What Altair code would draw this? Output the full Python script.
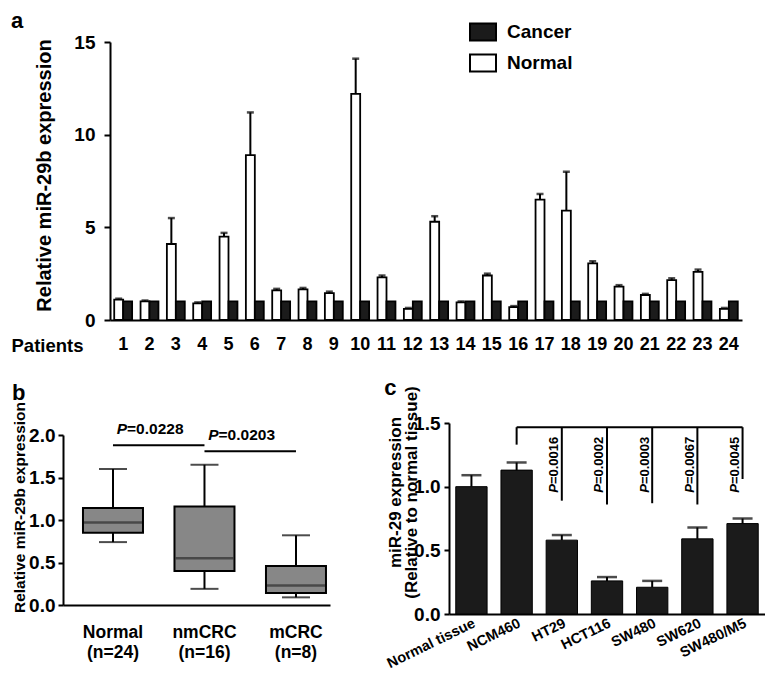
import altair as alt
import pandas as pd

FONT = "Liberation Sans"

# ---------------- panel a data ----------------
patients = ["1", "2", "3", "4", "5", "6", "7", "8", "9", "10", "11", "12",
            "13", "14", "15", "16", "17", "18", "19", "20", "21", "22", "23", "24"]
normal_expr = [1.1, 1.0, 4.1, 0.9, 4.5, 8.9, 1.6, 1.65, 1.45, 12.2, 2.3, 0.6,
               5.3, 0.95, 2.4, 0.7, 6.5, 5.9, 3.05, 1.8, 1.35, 2.15, 2.6, 0.6]
normal_err = [0.05, 0.05, 1.4, 0.05, 0.2, 2.3, 0.08, 0.08, 0.08, 1.9, 0.1, 0.05,
              0.3, 0.05, 0.1, 0.05, 0.3, 2.1, 0.12, 0.08, 0.06, 0.1, 0.12, 0.05]
cancer_expr = [1.0, 1.0, 1.0, 1.0, 1.0, 1.0, 1.0, 1.0, 1.0, 1.0, 1.0, 1.0,
               1.0, 1.0, 1.0, 1.0, 1.0, 1.0, 1.0, 1.0, 1.0, 1.0, 1.0, 1.0]
series_a = ["Cancer", "Normal"]

# ---------------- panel b data ----------------
groups_b = ["Normal|(n=24)", "nmCRC|(n=16)", "mCRC|(n=8)"]
b_low = [0.74, 0.19, 0.09]
b_q1 = [0.85, 0.40, 0.14]
b_med = [0.97, 0.55, 0.23]
b_q3 = [1.14, 1.16, 0.46]
b_high = [1.60, 1.65, 0.82]
pb_from = ["Normal|(n=24)", "nmCRC|(n=16)"]
pb_to = ["nmCRC|(n=16)", "mCRC|(n=8)"]
pb_text = ["=0.0228", "=0.0203"]
pb_line_y = [1.88, 1.81]
pb_label_y = [2.065, 2.0]

# ---------------- panel c data ----------------
cells = ["Normal tissue", "NCM460", "HT29", "HCT116", "SW480", "SW620", "SW480/M5"]
cell_expr = [1.0, 1.13, 0.58, 0.26, 0.21, 0.59, 0.71]
cell_err = [0.09, 0.06, 0.04, 0.03, 0.05, 0.09, 0.04]
bracket_from = ["NCM460"]
bracket_to = ["SW480/M5"]
bracket_level = [1.467]
drop_cells = ["NCM460", "HT29", "HCT116", "SW480", "SW620", "SW480/M5"]
drop_bottom = [1.33, 0.89, 0.86, 0.87, 0.86, 1.06]
pc_cells = ["HT29", "HCT116", "SW480", "SW620", "SW480/M5"]
pc_text = ["=0.0016", "=0.0002", "=0.0003", "=0.0067", "=0.0045"]
pc_anchor = [1.02, 1.02, 1.02, 1.02, 1.02]

# ======================= panel a =======================
dfa = pd.DataFrame({
    "patient": patients + patients,
    "group": ["Normal"] * len(patients) + ["Cancer"] * len(patients),
    "value": normal_expr + cancer_expr,
})
dfa_err = pd.DataFrame({
    "patient": patients,
    "group": ["Normal"] * len(patients),
    "value": normal_expr,
    "top": [v + e for v, e in zip(normal_expr, normal_err)],
})

A_W = 679      # plot group width (shared left edge with panel b)
A_SHIFT = 47   # where panel a's own axis starts inside that group
xa_scale = alt.Scale(domain=patients, paddingInner=0.32, paddingOuter=0.16, range=[A_SHIFT, A_W])
xa_axis = alt.Axis(title="Patients", labelAngle=0, ticks=False, tickSize=0,
                   labelFontSize=18, labelPadding=15, titleX=-52, titleY=25,
                   titleAlign="left", titleBaseline="middle", titleFontSize=18.5,
                   domainWidth=2)
xoff = alt.XOffset("group:N", scale=alt.Scale(domain=["Normal", "Cancer"], paddingInner=0, paddingOuter=0))
ya_scale = alt.Scale(domain=[0, 15], nice=False)
ya_axis = alt.Axis(values=[0, 5, 10, 15], title="Relative miR-29b expression", offset=-A_SHIFT,
                   titleFontSize=20, titleX=-66, titleY=133, titleAlign="center",
                   titleBaseline="middle", tickSize=6, labelPadding=9, labelFontSize=19)

bars_a = alt.Chart(dfa).mark_bar(stroke="black", strokeWidth=1.8).encode(
    x=alt.X("patient:N", scale=xa_scale, axis=xa_axis),
    xOffset=xoff,
    y=alt.Y("value:Q", scale=ya_scale, axis=ya_axis),
    color=alt.Color("group:N", scale=alt.Scale(domain=series_a, range=["#1b1b1b", "#ffffff"]),
                    legend=alt.Legend(title=None, orient="none", legendX=359 + A_SHIFT, legendY=-24,
                                      symbolType="M-1,-0.65H1V0.65H-1Z", symbolSize=676,
                                      symbolStrokeColor="black", symbolStrokeWidth=2,
                                      labelFontSize=19, labelFont=FONT, labelFontWeight="bold",
                                      labelColor="black", labelOffset=10, rowPadding=4, padding=0)),
)
err_a = alt.Chart(dfa_err).mark_rule(strokeWidth=2, color="black").encode(
    x=alt.X("patient:N", scale=xa_scale, axis=xa_axis),
    xOffset=xoff,
    y=alt.Y("value:Q", scale=ya_scale, axis=ya_axis),
    y2="top:Q",
)
cap_a = alt.Chart(dfa_err).mark_tick(thickness=2.5, size=7, color="black").encode(
    x=alt.X("patient:N", scale=xa_scale, axis=xa_axis),
    xOffset=xoff,
    y=alt.Y("top:Q", scale=ya_scale, axis=ya_axis),
)
panel_a = alt.layer(bars_a, err_a, cap_a).properties(
    width=A_W, height=278,
    title=alt.Title("a", anchor="start", frame="bounds", fontSize=22, fontWeight="bold",
                    font=FONT, offset=0, color="black"),
)

# ======================= panel b =======================
dfb = pd.DataFrame({"group": groups_b, "low": b_low, "q1": b_q1, "med": b_med,
                    "q3": b_q3, "high": b_high})
dfp = pd.DataFrame({"from": pb_from, "to": pb_to, "line_y": pb_line_y,
                    "label_y": pb_label_y, "text": pb_text, "p": ["P", "P"]})

B_H = 182
B_TOP = 12
xb_scale = alt.Scale(domain=groups_b, paddingInner=0.3, paddingOuter=0.109, align=0.9)
xb_axis = alt.Axis(title=None, labelAngle=0, ticks=False, tickSize=0,
                   labelExpr="split(datum.label, '|')", labelFontSize=17.5,
                   labelLineHeight=20, labelPadding=18, domainWidth=2)
yb_scale = alt.Scale(domain=[0, 2], nice=False, range=[B_H, B_TOP])
yb_axis = alt.Axis(values=[0, 0.5, 1, 1.5, 2], format=".1f", title="Relative miR-29b expression",
                   titleFontSize=15.5, titleX=-44, titleY=84, titleAlign="center",
                   titleBaseline="middle", tickSize=5, labelPadding=3, labelFontSize=19)


def xb(field="group", band=None):
    if band is None:
        return alt.X(f"{field}:N", scale=xb_scale, axis=xb_axis)
    return alt.X(f"{field}:N", scale=xb_scale, axis=xb_axis, bandPosition=band)


def yb(field):
    return alt.Y(f"{field}:Q", scale=yb_scale, axis=yb_axis)


whisk_b = alt.Chart(dfb).mark_rule(strokeWidth=2, color="black").encode(x=xb(), y=yb("low"), y2="high:Q")
box_b = alt.Chart(dfb).mark_bar(size=60, fill="#878787", stroke="black", strokeWidth=2).encode(
    x=xb(), y=yb("q1"), y2="q3:Q")
med_b = alt.Chart(dfb).mark_tick(size=58, thickness=2.5, color="#2e2e2e").encode(x=xb(), y=yb("med"))
lo_b = alt.Chart(dfb).mark_tick(size=28, thickness=2, color="black").encode(x=xb(), y=yb("low"))
hi_b = alt.Chart(dfb).mark_tick(size=28, thickness=2, color="black").encode(x=xb(), y=yb("high"))
pline_b = alt.Chart(dfp).mark_rule(strokeWidth=2, color="black").encode(
    x=xb("from"), x2="to:N", y=yb("line_y"))
ptxt_b = alt.Chart(dfp).mark_text(align="left", baseline="middle", fontSize=15.5,
                                  fontWeight="bold", font=FONT, color="black").encode(
    x=xb("from", 0.72), y=yb("label_y"), text="text:N")
pP_b = alt.Chart(dfp).mark_text(align="right", baseline="middle", fontSize=15.5,
                                fontWeight="bold", fontStyle="italic", font=FONT, color="black").encode(
    x=xb("from", 0.72), y=yb("label_y"), text="p:N")
panel_b = alt.layer(whisk_b, box_b, med_b, lo_b, hi_b, pline_b, ptxt_b, pP_b).properties(
    width=267, height=B_H,
    title=alt.Title("b", anchor="start", frame="bounds", fontSize=22, fontWeight="bold",
                    font=FONT, offset=0, dy=4, color="black"),
)

# ======================= panel c =======================
dfc = pd.DataFrame({"cell": cells, "val": cell_expr,
                    "top": [v + e for v, e in zip(cell_expr, cell_err)]})
dfbr = pd.DataFrame({"from": bracket_from, "to": bracket_to, "y": bracket_level})
dfdrop = pd.DataFrame({"cell": drop_cells, "top": bracket_level * len(drop_cells),
                       "bottom": drop_bottom})
dfpc = pd.DataFrame({"cell": pc_cells, "text": pc_text, "y": pc_anchor,
                     "p": ["P"] * len(pc_cells)})

xc_scale = alt.Scale(domain=cells, paddingInner=0.307, paddingOuter=0.15)
xc_axis = alt.Axis(title=None, labelAngle=334, ticks=False, tickSize=0, labelFontSize=14.5,
                   labelPadding=2, domainWidth=2)
yc_scale = alt.Scale(domain=[0, 1.5], nice=False)
yc_axis = alt.Axis(values=[0, 0.5, 1, 1.5], format=".1f",
                   title=["miR-29 expression", "(Relative to normal tissue)"],
                   titleFontSize=17, titleLineHeight=16, titleX=-54, titleY=69,
                   titleAlign="center", titleBaseline="middle", tickSize=5,
                   labelPadding=4, labelFontSize=19)


def xc(field="cell", band=None):
    if band is None:
        return alt.X(f"{field}:N", scale=xc_scale, axis=xc_axis)
    return alt.X(f"{field}:N", scale=xc_scale, axis=xc_axis, bandPosition=band)


def yc(field):
    return alt.Y(f"{field}:Q", scale=yc_scale, axis=yc_axis)


bars_c = alt.Chart(dfc).mark_bar(fill="#1b1b1b", stroke="black", strokeWidth=1).encode(x=xc(), y=yc("val"))
err_c = alt.Chart(dfc).mark_rule(strokeWidth=2, color="black").encode(x=xc(), y=yc("val"), y2="top:Q")
cap_c = alt.Chart(dfc).mark_tick(size=20, thickness=2.5, color="black").encode(x=xc(), y=yc("top"))
br_c = alt.Chart(dfbr).mark_rule(strokeWidth=2, color="black").encode(x=xc("from"), x2="to:N", y=yc("y"))
drop_c = alt.Chart(dfdrop).mark_rule(strokeWidth=2, color="black").encode(x=xc(), y=yc("top"), y2="bottom:Q")
ptxt_c = alt.Chart(dfpc).mark_text(angle=270, align="left", baseline="middle", fontSize=13,
                                   fontWeight="bold", font=FONT, color="black").encode(
    x=xc("cell", 0.26), y=yc("y"), text="text:N")
pP_c = alt.Chart(dfpc).mark_text(angle=270, align="right", baseline="middle", fontSize=13,
                                 fontWeight="bold", fontStyle="italic", font=FONT, color="black").encode(
    x=xc("cell", 0.26), y=yc("y"), text="p:N")
panel_c = alt.layer(bars_c, err_c, cap_c, br_c, drop_c, ptxt_c, pP_c).properties(
    width=316, height=191,
    title=alt.Title("c", anchor="start", frame="bounds", fontSize=22, fontWeight="bold",
                    font=FONT, offset=0, dy=14, color="black"),
)

bottom = alt.hconcat(panel_b, panel_c, spacing=54)
chart = alt.vconcat(panel_a, bottom, spacing=21).properties(
    padding={"left": 3, "top": 2, "right": 0, "bottom": 0},
    background="white",
).configure_view(stroke=None).configure_axis(
    labelFont=FONT, titleFont=FONT, labelFontWeight="bold", titleFontWeight="bold",
    labelColor="black", titleColor="black", domainColor="black", tickColor="black",
    domainWidth=2, tickWidth=2, grid=False,
)

chart.save("out.html", embed_options={"renderer": "svg", "actions": False})
